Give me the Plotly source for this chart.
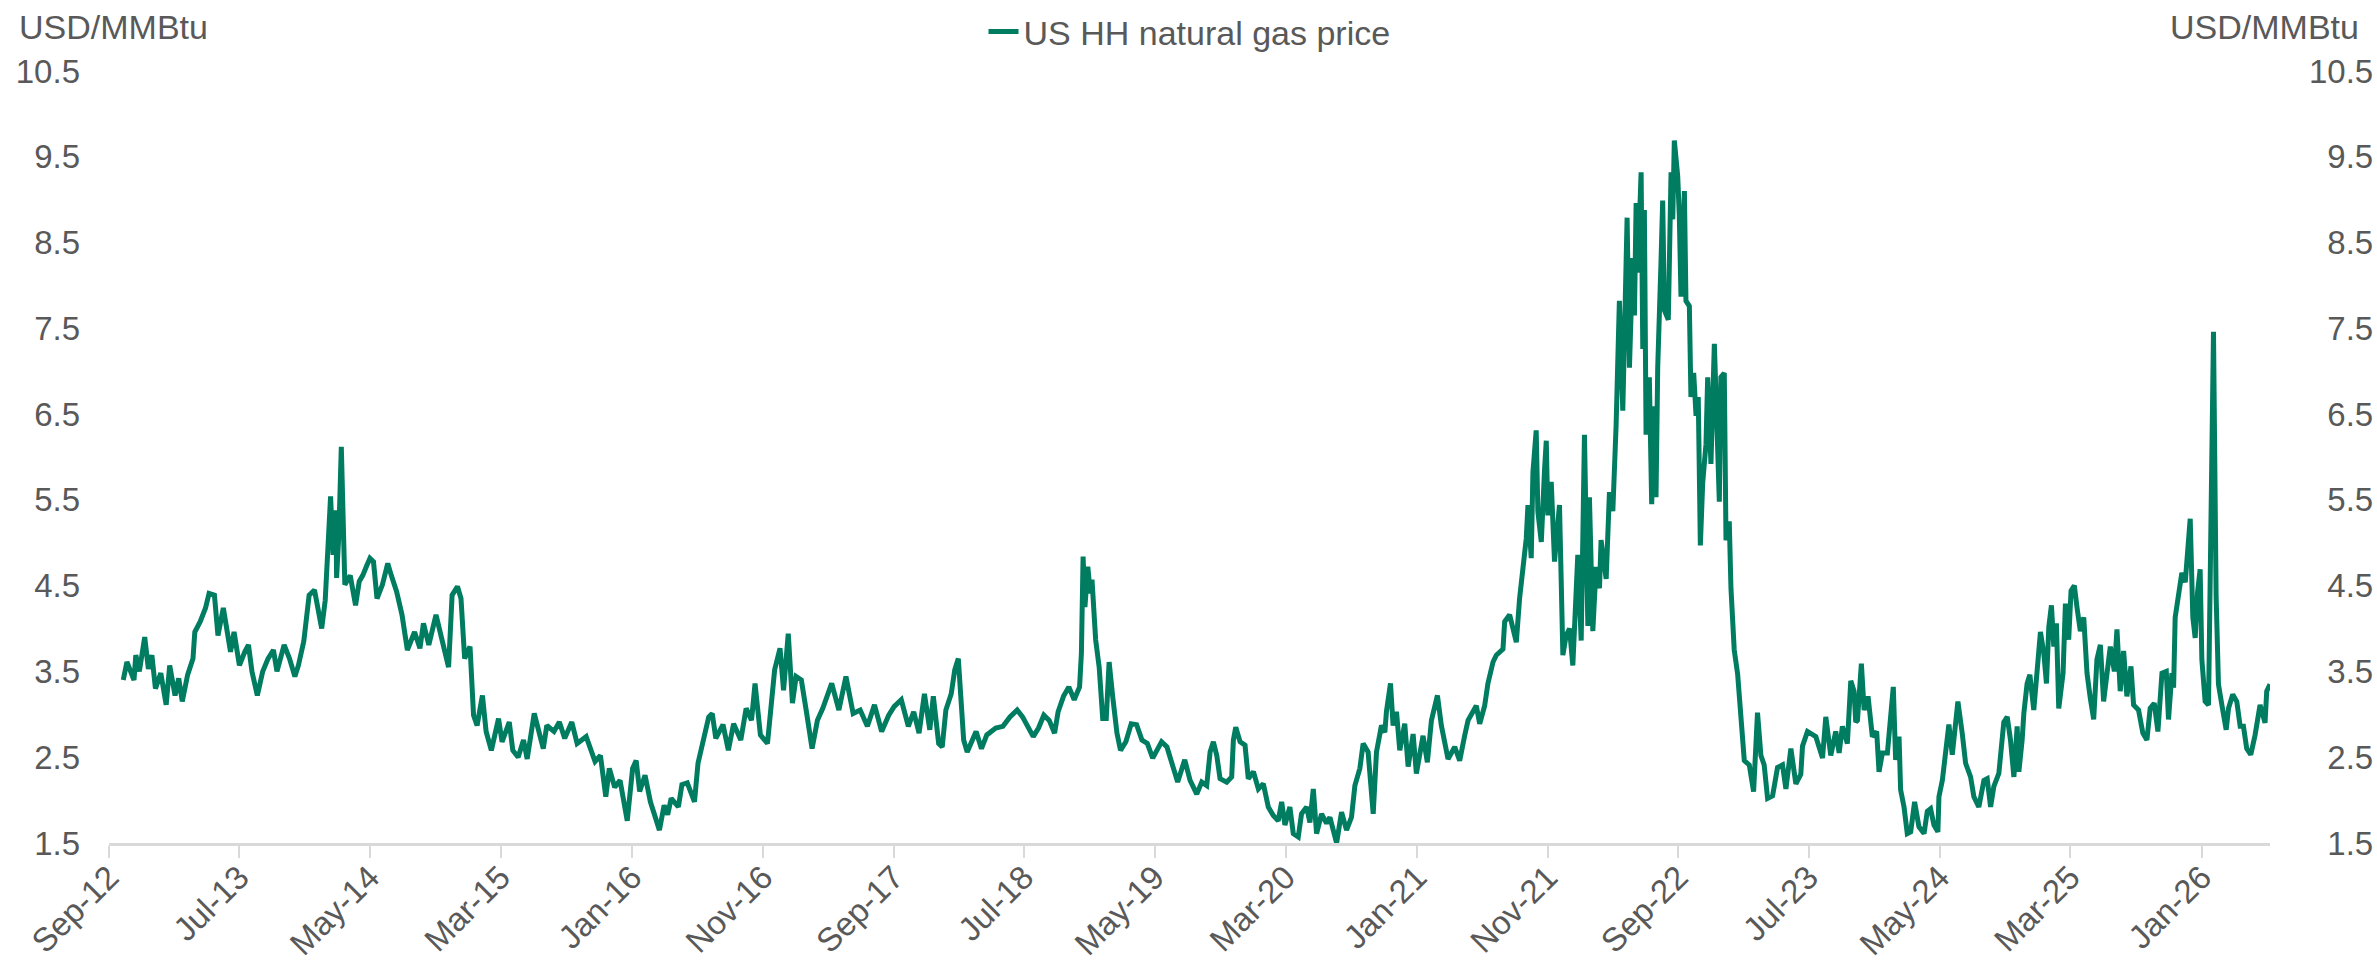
import pandas as pd
import plotly.graph_objects as go

# ---- data (month offset since 1 Sep 2012, price USD/MMBtu) ----
months_since_sep2012 = [
    1.09, 1.37, 1.91, 2.05, 2.32, 2.73, 3.01, 3.28, 3.55, 3.96, 4.37, 4.64, 5.05, 5.33, 5.60,
    6.01, 6.42, 6.56, 6.97, 7.38, 7.65, 8.06, 8.33, 8.74, 9.02, 9.29, 9.56, 9.97, 10.38, 10.66,
    10.93, 11.34, 11.75, 12.16, 12.57, 12.84, 13.39, 13.80, 14.21, 14.48, 14.89, 15.30, 15.71,
    15.98, 16.26, 16.53, 16.80, 16.94, 17.13, 17.35, 17.40, 17.57, 17.76, 17.90, 18.03, 18.44,
    18.85, 19.13, 19.40, 19.67, 19.95, 20.22, 20.49, 20.90, 21.31, 21.58, 21.99, 22.40, 22.81,
    23.36, 23.77, 24.04, 24.45, 25.00, 25.41, 25.96, 26.23, 26.64, 26.91, 27.19, 27.60, 27.87,
    28.14, 28.55, 28.83, 29.23, 29.78, 30.05, 30.60, 30.87, 31.28, 31.69, 31.97, 32.51, 33.20,
    33.47, 34.02, 34.43, 34.84, 35.38, 35.79, 36.48, 37.16, 37.57, 37.98, 38.25, 38.66, 39.07,
    39.62, 40.03, 40.30, 40.57, 40.98, 41.39, 42.08,
    42.44, 42.71, 42.98, 43.53, 43.80, 44.21, 44.76, 45.03, 45.30, 45.85, 46.12, 46.39, 46.94,
    47.35, 47.75, 48.30, 48.71, 49.12, 49.39, 49.80, 50.34, 50.89, 51.30, 51.57, 51.93, 52.25,
    52.53, 52.93, 53.34, 53.75, 54.16, 54.57, 55.25, 55.80, 56.34, 56.89, 57.43, 57.98, 58.52,
    59.07, 59.61, 60.02, 60.57, 61.11, 61.52, 61.93, 62.34, 62.75, 63.02, 63.43, 63.70, 63.98,
    64.39, 64.66, 64.93, 65.34, 65.61, 66.29, 66.70, 67.11, 67.79, 68.34, 68.88, 69.43, 69.84,
    70.25, 70.66, 71.06, 71.47, 71.88, 72.29, 72.56, 72.97, 73.38, 73.79, 74.20, 74.34, 74.47,
    74.61, 74.83, 75.02, 75.15, 75.43, 75.70, 75.97, 76.24, 76.46, 76.73, 77.06, 77.33, 77.74,
    78.15, 78.56, 78.97, 79.38, 79.79, 80.47, 80.88, 81.29, 81.70, 82.24, 82.65,
    83.16, 83.54, 83.92, 84.18, 84.43, 84.69, 84.94, 85.45, 85.83, 85.96, 86.14, 86.47, 86.85,
    87.10, 87.49, 87.87, 88.25, 88.63, 89.01, 89.39, 89.65, 89.90, 90.28, 90.54, 90.92, 91.17,
    91.56, 91.81, 92.07, 92.32, 92.70, 93.08, 93.34, 93.72, 93.85, 94.23, 94.61, 94.99, 95.25,
    95.63, 95.88, 96.26, 96.65, 96.90, 97.28, 97.54, 97.66, 97.97, 98.17, 98.43, 98.68, 99.06,
    99.32, 99.70, 99.95, 100.46, 100.79, 101.10, 101.56, 101.86, 102.37, 102.88, 103.26, 103.64,
    103.90, 104.53, 104.79, 105.17, 105.42, 105.81, 106.06, 106.57, 106.70, 107.08, 107.59,
    107.84, 108.10, 108.35, 108.48, 108.73, 108.86, 109.11, 109.24, 109.50, 109.75, 109.88,
    110.00, 110.26, 110.51, 110.89, 111.15, 111.40, 111.66, 111.91,
    112.29, 112.55, 112.80, 113.06, 113.18, 113.44, 113.69, 113.95, 114.07, 114.46, 114.71,
    114.97, 115.22, 115.35, 115.47, 115.73, 115.91, 116.06, 116.24, 116.49, 116.62, 116.75,
    116.87, 117.13, 117.26, 117.38, 117.51, 117.76, 117.94, 118.15, 118.27, 118.40, 118.65,
    118.78, 118.91, 119.21, 119.42, 119.55, 119.67, 119.93, 120.05, 120.18, 120.44, 120.56,
    120.82, 120.94, 121.15, 121.33, 121.50, 121.66, 121.84, 122.09, 122.22, 122.47, 122.73,
    122.98, 123.11, 123.23, 123.49, 123.62, 123.87, 124.00, 124.25, 124.51, 124.76, 125.02,
    125.40, 125.73, 126.03, 126.29, 126.54, 126.80, 127.18, 127.56, 127.94, 128.20, 128.58,
    128.96, 129.34, 129.47, 129.85, 130.49, 131.00, 131.25, 131.63, 132.01, 132.27, 132.52,
    132.90, 133.16, 133.41, 133.54,
    133.67, 133.97, 134.18, 134.48, 134.81, 135.14, 135.32, 135.58, 135.96, 136.21, 136.41,
    136.59, 136.85, 136.97, 137.23, 137.48, 137.74, 138.04, 138.37, 138.76, 139.01, 139.26,
    139.52, 139.82, 139.90, 140.16, 140.41, 140.66, 140.92, 141.17, 141.35, 141.68, 141.94,
    142.32, 142.57, 142.95, 143.34, 143.59, 143.85, 144.10, 144.48, 144.86, 145.12, 145.37,
    145.63, 145.88, 146.01, 146.26, 146.39, 146.64, 146.85, 147.15, 147.41, 147.66, 147.92,
    148.12, 148.30, 148.50, 148.68, 148.88, 149.06, 149.39, 149.57, 149.82,
    150.00, 150.25, 150.46, 150.71, 150.97, 151.22, 151.47, 151.73, 151.98, 152.24, 152.49,
    152.75, 153.00, 153.31, 153.51, 153.76, 154.02, 154.27, 154.58, 154.78, 155.16, 155.49,
    155.80, 156.05, 156.36, 156.64, 156.95, 157.28, 157.45, 157.71, 157.84, 157.96, 158.22,
    158.47, 158.73, 158.93, 159.11, 159.31, 159.49, 159.67, 159.87, 160.00, 160.25, 160.51,
    160.69, 160.89, 161.09, 161.27, 161.53, 161.86, 162.04, 162.36, 162.67, 162.93, 163.18,
    163.43, 163.74, 164.07, 164.45, 164.83, 164.96, 165.21,
]

price_usd_mmbtu = [
    3.40, 3.61, 3.40, 3.69, 3.50, 3.90, 3.53, 3.69, 3.30, 3.48, 3.11, 3.57, 3.22, 3.42, 3.15,
    3.46, 3.65, 3.96, 4.08, 4.24, 4.41, 4.39, 3.92, 4.24, 3.98, 3.73, 3.96, 3.57, 3.73, 3.81,
    3.50, 3.22, 3.50, 3.65, 3.75, 3.50, 3.81, 3.65, 3.44, 3.57, 3.85, 4.39, 4.45,
    4.24, 4.00, 4.33, 5.17, 5.54, 4.86, 5.38, 4.59, 5.09, 6.12, 5.25, 4.51, 4.62,
    4.27, 4.55, 4.62, 4.72, 4.82, 4.78, 4.35, 4.51, 4.76, 4.62, 4.43, 4.16, 3.75,
    3.96, 3.77, 4.06, 3.81, 4.16, 3.88, 3.55, 4.39, 4.49, 4.35, 3.65, 3.79, 2.99,
    2.87, 3.22, 2.80, 2.58, 2.95, 2.68, 2.91, 2.58, 2.50, 2.70, 2.48, 3.01, 2.60,
    2.87, 2.80, 2.91, 2.72, 2.91, 2.66, 2.74, 2.45, 2.52, 2.04, 2.37, 2.15, 2.23,
    1.76, 2.37, 2.46, 2.10, 2.29, 1.98, 1.65,
    1.94, 1.83, 2.02, 1.92, 2.18, 2.20, 1.98, 2.43, 2.62, 2.97, 3.01, 2.72, 2.88,
    2.58, 2.89, 2.70, 3.07, 2.93, 3.36, 2.76, 2.66, 3.52, 3.77, 3.28, 3.94, 3.13,
    3.44, 3.40, 3.01, 2.60, 2.93, 3.07, 3.36, 3.05, 3.44, 3.01, 3.05, 2.86, 3.11,
    2.80, 2.99, 3.09, 3.17, 2.86, 3.03, 2.78, 3.24, 2.82, 3.21, 2.66, 2.62, 3.05,
    3.24, 3.52, 3.65, 2.70, 2.56, 2.80, 2.60, 2.76, 2.84, 2.86, 2.97, 3.05, 2.97,
    2.84, 2.74, 2.84, 2.99, 2.93, 2.78, 3.03, 3.21, 3.32, 3.17, 3.32, 3.71, 4.84,
    4.25, 4.72, 4.41, 4.57, 3.87, 3.55, 2.95, 2.95, 3.61, 3.21, 2.78, 2.58, 2.68,
    2.89, 2.88, 2.70, 2.66, 2.49, 2.68, 2.62, 2.39, 2.21, 2.47, 2.23,
    2.07, 2.21, 2.17, 2.56, 2.68, 2.52, 2.25, 2.21, 2.27, 2.70, 2.85, 2.68, 2.64,
    2.25, 2.33, 2.13, 2.19, 1.92, 1.82, 1.76, 1.98, 1.71, 1.92, 1.61, 1.57, 1.84,
    1.92, 1.74, 2.13, 1.61, 1.84, 1.73, 1.80, 1.59, 1.50, 1.86, 1.65, 1.80, 2.17,
    2.37, 2.66, 2.56, 1.84, 2.56, 2.87, 2.79, 3.03, 3.36, 2.87, 3.03, 2.58, 2.89,
    2.39, 2.77, 2.31, 2.75, 2.44, 2.93, 3.22, 2.87, 2.48, 2.62, 2.46, 2.75,
    2.93, 3.10, 2.89, 3.10, 3.36, 3.61, 3.69, 3.76, 4.08, 4.16, 3.84,
    4.35, 4.70, 5.05, 5.44, 4.82, 5.82, 6.31, 5.36, 5.01, 5.86, 6.19,
    5.32, 5.71, 4.78, 5.44, 3.69, 3.92, 4.00, 3.57,
    4.86, 3.86, 6.26, 4.03, 5.53, 3.97, 4.72, 4.47, 5.03, 4.58, 5.59,
    5.37, 6.37, 7.26, 7.82, 6.54, 7.54, 8.79, 7.04, 8.32, 7.65, 8.96,
    8.15, 9.32, 7.26, 8.88, 6.26, 6.93, 5.45, 6.59, 5.53, 7.04, 8.27,
    8.99, 7.71, 7.60, 9.32, 8.77, 9.69, 9.27, 8.82, 7.87, 9.10, 7.82,
    7.76, 6.70, 6.98, 6.48, 6.70, 4.97, 5.70, 6.15, 6.93, 5.92, 7.32,
    6.26, 5.48, 6.93, 6.98, 5.03, 5.25, 4.47, 3.75, 3.47, 3.02, 2.46,
    2.41, 2.10, 3.02, 2.52, 2.41, 2.02, 2.05, 2.38, 2.41, 2.13, 2.60,
    2.19, 2.30, 2.63, 2.80, 2.74, 2.49, 2.97, 2.52, 2.80, 2.55, 2.86,
    2.66, 3.39, 3.27, 2.91,
    2.93, 3.59, 3.05, 3.21, 2.74, 2.80, 2.33, 2.55, 2.55, 2.93, 3.32,
    2.47, 2.74, 2.12, 1.92, 1.61, 1.63, 1.98, 1.69, 1.61, 1.87, 1.90,
    1.71, 1.63, 2.04, 2.23, 2.55, 2.88, 2.53, 2.89, 3.15, 2.78, 2.43,
    2.27, 2.04, 1.92, 2.23, 2.25, 1.92, 2.16, 2.31, 2.91, 2.97, 2.70,
    2.27, 2.86, 2.33, 2.70, 3.01, 3.36, 3.46, 3.05, 3.48, 3.96, 3.71,
    3.36, 4.02, 4.27, 3.79, 4.06, 3.07, 3.48, 4.29, 3.87,
    4.44, 4.50, 4.24, 3.97, 4.13, 3.48, 3.19, 2.94, 3.64, 3.81, 3.15,
    3.52, 3.79, 3.50, 3.99, 3.27, 3.74, 3.21, 3.56, 3.11, 3.05, 2.78,
    2.70, 3.07, 3.13, 2.80, 3.48, 3.50, 2.94, 3.48, 3.31, 4.13, 4.36,
    4.65, 4.54, 4.91, 5.28, 4.13, 3.89, 4.42, 4.69, 3.64, 3.15, 3.11,
    5.28, 7.46, 4.38, 3.35, 3.11, 2.82, 3.07, 3.23, 3.15, 2.86, 2.86,
    2.60, 2.53, 2.76, 3.11, 2.90, 3.27, 3.35,
]

y_ticks = [1.5, 2.5, 3.5, 4.5, 5.5, 6.5, 7.5, 8.5, 9.5, 10.5]
series_name = "US HH natural gas price"
axis_title = "USD/MMBtu"

# ---- build ----
start = pd.Timestamp("2012-09-01")
dates = [start + pd.Timedelta(days=m * 30.4375) for m in months_since_sep2012]

W, H = 2377, 965
ML, MR, MT, MB = 109, 107, 71, 122
PW = W - ML - MR
PH = H - MT - MB

LINE_COLOR = "#007C60"
TEXT_COLOR = "#595959"
AXIS_COLOR = "#D9D9D9"
FONT = "Liberation Sans, Arial, sans-serif"

fig = go.Figure()
fig.add_trace(go.Scatter(
    x=dates, y=price_usd_mmbtu, mode="lines", name=series_name,
    line=dict(color=LINE_COLOR, width=5),
))
# invisible copy on the right axis so that it is drawn
fig.add_trace(go.Scatter(
    x=dates, y=price_usd_mmbtu, mode="lines", yaxis="y2",
    line=dict(color="rgba(0,0,0,0)", width=0), showlegend=False, hoverinfo="skip",
))

right_text = [("\u2007" if v < 10 else "") + f"{v:.1f}" for v in y_ticks]

fig.update_layout(
    width=W, height=H,
    margin=dict(l=ML, r=MR, t=MT, b=MB, pad=0, autoexpand=False),
    paper_bgcolor="white", plot_bgcolor="white",
    font=dict(family=FONT, color=TEXT_COLOR, size=33),
    showlegend=True,
    legend=dict(
        orientation="h", x=0.5, xanchor="center",
        y=1 + (MT - 32) / PH, yanchor="middle",
        font=dict(size=34, color=TEXT_COLOR), bgcolor="rgba(0,0,0,0)",
        itemwidth=30,
    ),
    xaxis=dict(
        type="date", range=[start, dates[-1]],
        tick0="2012-09-01", dtick="M10", tickformat="%b-%y", tickangle=-45,
        ticks="outside", ticklen=12, tickwidth=2, tickcolor=AXIS_COLOR,
        showline=True, linecolor=AXIS_COLOR, linewidth=2.5,
        showgrid=False, zeroline=False, automargin=False,
        tickfont=dict(size=33, color=TEXT_COLOR),
        ticklabelstandoff=-13,
    ),
    yaxis=dict(
        range=[1.5, 10.5], tickmode="array", tickvals=y_ticks,
        ticktext=[f"{v:.1f}" for v in y_ticks],
        showgrid=False, zeroline=False, showline=False, ticks="",
        automargin=False,
        tickfont=dict(size=33, color=TEXT_COLOR), ticklabelstandoff=28,
    ),
    yaxis2=dict(
        range=[1.5, 10.5], overlaying="y", side="right", anchor="x",
        tickmode="array", tickvals=y_ticks, ticktext=right_text,
        showgrid=False, zeroline=False, showline=False, ticks="",
        automargin=False,
        tickfont=dict(size=33, color=TEXT_COLOR), ticklabelstandoff=38,
    ),
    annotations=[
        dict(text=axis_title, xref="paper", yref="paper",
             x=(17 - ML) / PW, xanchor="left",
             y=1 + (MT - 27) / PH, yanchor="middle",
             showarrow=False, font=dict(size=34, color=TEXT_COLOR)),
        dict(text=axis_title, xref="paper", yref="paper",
             x=(2361 - ML) / PW, xanchor="right",
             y=1 + (MT - 27) / PH, yanchor="middle",
             showarrow=False, font=dict(size=34, color=TEXT_COLOR)),
    ],
)

fig.write_html("out.html", config={"displayModeBar": False},
               post_script="document.body.style.margin='0';")
